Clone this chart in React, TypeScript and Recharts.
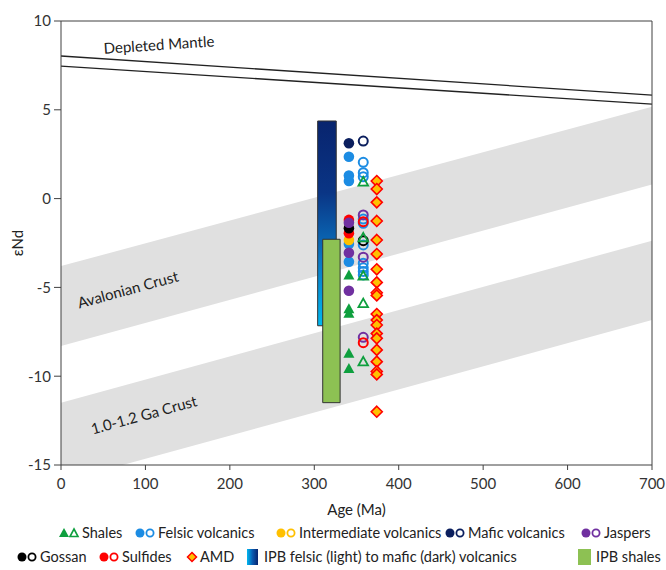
import React from 'react';
import {
  ComposedChart,
  Area,
  Line,
  Scatter,
  XAxis,
  YAxis,
  ReferenceArea,
  ReferenceLine,
  ReferenceDot,
} from 'recharts';

const FONT = 'Lato, "Open Sans", sans-serif';

const X_TICKS = [0, 100, 200, 300, 400, 500, 600, 700];
const Y_TICKS = [-15, -10, -5, 0, 5, 10];

const FILLED_AGE = 341;
const OPEN_AGE = 358;
const AMD_AGE = 374;

const shalesFilled = [-4.3, -6.2, -6.45, -8.71, -9.56];
const shalesOpen = [0.95, -2.2, -4.35, -5.9, -9.18];
const felsicFilled = [2.36, 1.3, 0.99, -2.56, -3.55];
const felsicOpen = [2.04, 1.46, 1.23, -1.15, -1.39, -2.61, -3.64, -3.9, -4.1, -4.3];
const intermediateFilled = [-2.33];
const maficFilled = [3.12];
const maficOpen = [3.24];
const jaspersFilled = [-1.36, -3.05, -5.19];
const jaspersOpen = [-0.92, -3.3, -7.81];
const gossanFilled = [-1.67];
const gossanOpen = [-2.37];
const sulfidesFilled = [-1.2, -1.95];
const sulfidesOpen = [-1.3, -8.11];
const amdValues = [0.99, 0.54, -0.21, -1.26, -2.33, -3.12, -3.98, -4.72, -5.3, -5.45, -6.5, -6.84, -7.12, -7.6, -7.87, -8.52, -9.18, -9.73, -9.9, -12.0];

const LINE_AGES = [0, 700];
const mantleUpper = [8.03, 5.83];
const mantleLower = [7.46, 5.32];
const avalonTop = [-3.8, 5.17];
const avalonBottom = [-8.3, 0.8];
const gaTop = [-11.49, -2.37];
const gaBottom = [-15.95, -6.84];

const ipbVolcAges = [304, 326];
const ipbVolcRange = [-7.16, 4.37];
const ipbShaleAges = [310, 330.6];
const ipbShaleRange = [-11.49, -2.29];

const C = {
  shales: '#0E9F3E',
  felsic: '#1C8CE3',
  inter: '#FFC000',
  mafic: '#0B1F5E',
  jasper: '#7030A0',
  gossan: '#000000',
  sulfide: '#FF0000',
};

const chartData = LINE_AGES.map((age, i) => ({
  age,
  mu: mantleUpper[i],
  ml: mantleLower[i],
  av: [avalonBottom[i], avalonTop[i]],
  ga: [gaBottom[i], gaTop[i]],
}));

const pts = (age: number, vals: number[]) => vals.map((v) => ({ age, v }));

const filledCircle = (color: string) => (p: any) => (
  <circle cx={p.cx} cy={p.cy} r={5.3} fill={color} />
);
const openCircle = (color: string) => (p: any) => (
  <circle cx={p.cx} cy={p.cy} r={4.5} fill="none" stroke={color} strokeWidth={2} />
);
const filledTri = (color: string) => (p: any) => (
  <polygon
    points={`${p.cx},${p.cy - 5.5} ${p.cx + 5.5},${p.cy + 4.5} ${p.cx - 5.5},${p.cy + 4.5}`}
    fill={color}
  />
);
const openTri = (color: string) => (p: any) => (
  <polygon
    points={`${p.cx},${p.cy - 4.8} ${p.cx + 4.8},${p.cy + 3.8} ${p.cx - 4.8},${p.cy + 3.8}`}
    fill="none"
    stroke={color}
    strokeWidth={1.8}
  />
);
const diamond = (p: any) => (
  <polygon
    points={`${p.cx},${p.cy - 5.5} ${p.cx + 5.5},${p.cy} ${p.cx},${p.cy + 5.5} ${p.cx - 5.5},${p.cy}`}
    fill="#FFC000"
    stroke="#FF0000"
    strokeWidth={1.6}
  />
);

const textAt = (text: string, angle: number) => (p: any) => (
  <text
    x={p.cx}
    y={p.cy}
    transform={`rotate(${angle} ${p.cx} ${p.cy})`}
    textAnchor="middle"
    dominantBaseline="central"
    fontSize={15}
    fontFamily={FONT}
    fill="#222"
  >
    {text}
  </text>
);

const LegendIcon = ({ kind, color }: { kind: string; color?: string }) => {
  const s = 12;
  const c = s / 2;
  let el: any = null;
  if (kind === 'ftri') el = <polygon points={`${c},1 ${s - 1},${s - 2} 1,${s - 2}`} fill={color} />;
  if (kind === 'otri') el = <polygon points={`${c},2 ${s - 2},${s - 2.5} 2,${s - 2.5}`} fill="none" stroke={color} strokeWidth={1.6} />;
  if (kind === 'fcirc') el = <circle cx={c} cy={c} r={4.5} fill={color} />;
  if (kind === 'ocirc') el = <circle cx={c} cy={c} r={3.6} fill="none" stroke={color} strokeWidth={1.8} />;
  if (kind === 'dia') el = <polygon points={`${c},1.5 ${s - 1.5},${c} ${c},${s - 1.5} 1.5,${c}`} fill="#FFC000" stroke="#FF0000" strokeWidth={1.5} />;
  return (
    <svg width={s} height={s} style={{ display: 'block' }}>
      {el}
    </svg>
  );
};

type LegendItem = { icons: { kind: string; color?: string; x: number }[]; label: string; labelX: number; box?: string };

const legendRow1: LegendItem[] = [
  { icons: [{ kind: 'ftri', color: C.shales, x: 58 }, { kind: 'otri', color: C.shales, x: 68 }], label: 'Shales', labelX: 82 },
  { icons: [{ kind: 'fcirc', color: C.felsic, x: 134 }, { kind: 'ocirc', color: C.felsic, x: 144 }], label: 'Felsic volcanics', labelX: 158 },
  { icons: [{ kind: 'fcirc', color: C.inter, x: 275 }, { kind: 'ocirc', color: C.inter, x: 285 }], label: 'Intermediate volcanics', labelX: 299 },
  { icons: [{ kind: 'fcirc', color: C.mafic, x: 444 }, { kind: 'ocirc', color: C.mafic, x: 454 }], label: 'Mafic volcanics', labelX: 468 },
  { icons: [{ kind: 'fcirc', color: C.jasper, x: 580 }, { kind: 'ocirc', color: C.jasper, x: 590 }], label: 'Jaspers', labelX: 604 },
];
const legendRow2: LegendItem[] = [
  { icons: [{ kind: 'fcirc', color: C.gossan, x: 16 }, { kind: 'ocirc', color: C.gossan, x: 26 }], label: 'Gossan', labelX: 40 },
  { icons: [{ kind: 'fcirc', color: C.sulfide, x: 98 }, { kind: 'ocirc', color: C.sulfide, x: 108 }], label: 'Sulfides', labelX: 122 },
  { icons: [{ kind: 'dia', x: 186 }], label: 'AMD', labelX: 200 },
  { icons: [], box: 'grad', label: 'IPB felsic (light) to mafic (dark) volcanics', labelX: 264 },
  { icons: [], box: 'green', label: 'IPB shales', labelX: 596 },
];

const LEG_FS = 14.5;

const Legend = () => {
  const row = (items: LegendItem[], cy: number) =>
    items.map((it, i) => (
      <React.Fragment key={`${cy}-${i}`}>
        {it.icons.map((ic, j) => (
          <div key={j} style={{ position: 'absolute', left: ic.x, top: cy - 6 }}>
            <LegendIcon kind={ic.kind} color={ic.color} />
          </div>
        ))}
        {it.box === 'grad' && (
          <div
            style={{
              position: 'absolute',
              left: 247,
              top: cy - 8,
              width: 11,
              height: 16,
              background: 'linear-gradient(to right, #00B8F0, #0A5AB0, #08246E)',
            }}
          />
        )}
        {it.box === 'green' && (
          <div
            style={{
              position: 'absolute',
              left: 578,
              top: cy - 8,
              width: 13,
              height: 16,
              background: '#8DC153',
            }}
          />
        )}
        <div
          style={{
            position: 'absolute',
            left: it.labelX,
            top: cy - 10,
            fontSize: LEG_FS,
            lineHeight: '20px',
            fontFamily: FONT,
            color: '#222',
            whiteSpace: 'nowrap',
          }}
        >
          {it.label}
        </div>
      </React.Fragment>
    ));
  return (
    <>
      {row(legendRow1, 533)}
      {row(legendRow2, 557)}
    </>
  );
};

export default function App() {
  const tickStyle = { fontSize: 15, fontFamily: FONT, fill: '#333' };
  return (
    <div style={{ position: 'relative', width: 666, height: 570, overflow: 'hidden', background: '#fff' }}>
      <style>{`body{margin:0;}`}</style>
      <div style={{ position: 'absolute', left: 8, top: 8 }}>
        <ComposedChart
          width={658}
          height={512}
          data={chartData}
          margin={{ top: 13, right: 14, bottom: 5, left: 8 }}
        >
          <defs>
            <linearGradient id="ipbGrad" x1="0" y1="0" x2="0" y2="1">
              <stop offset="0%" stopColor="#08246E" />
              <stop offset="35%" stopColor="#0A3585" />
              <stop offset="68%" stopColor="#0A78C4" />
              <stop offset="100%" stopColor="#00B8F0" />
            </linearGradient>
          </defs>
          <XAxis
            dataKey="age"
            type="number"
            domain={[0, 700]}
            ticks={X_TICKS}
            allowDataOverflow
            height={50}
            tickSize={5}
            tickMargin={8}
            tick={tickStyle}
            stroke="#404040"
            label={{ value: 'Age (Ma)', position: 'insideBottom', offset: 0, style: { fontSize: 15, fontFamily: FONT, fill: '#222' } }}
          />
          <YAxis
            type="number"
            domain={[-15, 10]}
            ticks={Y_TICKS}
            allowDataOverflow
            width={45}
            tickSize={7}
            tickMargin={3}
            tick={tickStyle}
            stroke="#404040"
            label={{ value: 'εNd', angle: -90, position: 'insideLeft', offset: 2, style: { fontSize: 15, fontFamily: FONT, fill: '#222', textAnchor: 'middle' } }}
          />
          <Area dataKey="av" type="linear" fill="#E0E0E0" fillOpacity={1} stroke="none" isAnimationActive={false} />
          <Area dataKey="ga" type="linear" fill="#E0E0E0" fillOpacity={1} stroke="none" isAnimationActive={false} />
          <Line dataKey="mu" type="linear" stroke="#222" strokeWidth={1.3} dot={false} isAnimationActive={false} />
          <Line dataKey="ml" type="linear" stroke="#222" strokeWidth={1.3} dot={false} isAnimationActive={false} />
          <ReferenceLine y={10} stroke="#404040" strokeWidth={1} />
          <ReferenceLine x={700} stroke="#404040" strokeWidth={1} />
          <ReferenceArea
            x1={ipbVolcAges[0]}
            x2={ipbVolcAges[1]}
            y1={ipbVolcRange[0]}
            y2={ipbVolcRange[1]}
            fill="url(#ipbGrad)"
            fillOpacity={1}
            stroke="#333"
            strokeWidth={1}
          />
          <ReferenceArea
            x1={ipbShaleAges[0]}
            x2={ipbShaleAges[1]}
            y1={ipbShaleRange[0]}
            y2={ipbShaleRange[1]}
            fill="#8DC153"
            fillOpacity={1}
            stroke="#333"
            strokeWidth={1}
          />
          <ReferenceDot x={116} y={8.7} r={0} shape={textAt('Depleted Mantle', -3.8)} />
          <ReferenceDot x={79} y={-5.09} r={0} shape={textAt('Avalonian Crust', -15.3)} />
          <ReferenceDot x={98} y={-12.15} r={0} shape={textAt('1.0-1.2 Ga Crust', -15.3)} />

          <Scatter data={pts(AMD_AGE, amdValues)} dataKey="v" shape={diamond} isAnimationActive={false} />
          <Scatter data={pts(OPEN_AGE, felsicOpen)} dataKey="v" shape={openCircle(C.felsic)} isAnimationActive={false} />
          <Scatter data={pts(OPEN_AGE, jaspersOpen)} dataKey="v" shape={openCircle(C.jasper)} isAnimationActive={false} />
          <Scatter data={pts(OPEN_AGE, sulfidesOpen)} dataKey="v" shape={openCircle(C.sulfide)} isAnimationActive={false} />
          <Scatter data={pts(OPEN_AGE, maficOpen)} dataKey="v" shape={openCircle(C.mafic)} isAnimationActive={false} />
          <Scatter data={pts(OPEN_AGE, gossanOpen)} dataKey="v" shape={openCircle(C.gossan)} isAnimationActive={false} />
          <Scatter data={pts(OPEN_AGE, shalesOpen)} dataKey="v" shape={openTri(C.shales)} isAnimationActive={false} />

          <Scatter data={pts(FILLED_AGE, felsicFilled)} dataKey="v" shape={filledCircle(C.felsic)} isAnimationActive={false} />
          <Scatter data={pts(FILLED_AGE, intermediateFilled)} dataKey="v" shape={filledCircle(C.inter)} isAnimationActive={false} />
          <Scatter data={pts(FILLED_AGE, sulfidesFilled)} dataKey="v" shape={filledCircle(C.sulfide)} isAnimationActive={false} />
          <Scatter data={pts(FILLED_AGE, gossanFilled)} dataKey="v" shape={filledCircle(C.gossan)} isAnimationActive={false} />
          <Scatter data={pts(FILLED_AGE, jaspersFilled)} dataKey="v" shape={filledCircle(C.jasper)} isAnimationActive={false} />
          <Scatter data={pts(FILLED_AGE, maficFilled)} dataKey="v" shape={filledCircle(C.mafic)} isAnimationActive={false} />
          <Scatter data={pts(FILLED_AGE, shalesFilled)} dataKey="v" shape={filledTri(C.shales)} isAnimationActive={false} />
        </ComposedChart>
      </div>
      <Legend />
    </div>
  );
}
